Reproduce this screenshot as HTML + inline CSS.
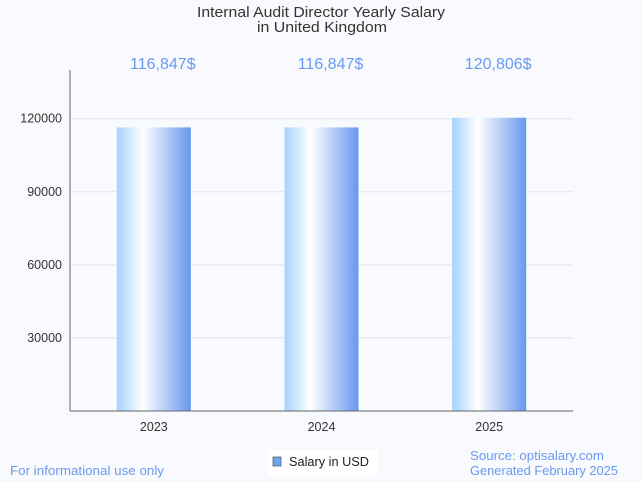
<!DOCTYPE html>
<html><head><meta charset="utf-8"><style>
body{margin:0;width:642px;height:482px;background:#f9fafd;font-family:"Liberation Sans",sans-serif;overflow:hidden}
svg{display:block}
</style></head><body>
<svg id="chart" width="642" height="482">
<defs><linearGradient id="bg" x1="0" x2="1" y1="0" y2="0">
<stop offset="0" stop-color="#a6d2fd"/><stop offset="0.35" stop-color="#ffffff"/><stop offset="1" stop-color="#6797ee"/>
</linearGradient></defs>
<text x="197" y="17" textLength="248" lengthAdjust="spacingAndGlyphs" font-size="14.5" fill="#333">Internal Audit Director Yearly Salary</text>
<text x="257" y="32" textLength="130" lengthAdjust="spacingAndGlyphs" font-size="14.5" fill="#333">in United Kingdom</text>
<g id="grid"></g><g id="bars"></g>
<line x1="70" y1="70" x2="70" y2="411" stroke="#666"/>
<line x1="70" y1="411" x2="573" y2="411" stroke="#666"/>
<text x="10" y="475" textLength="154" lengthAdjust="spacingAndGlyphs" font-size="13" fill="#6a9af0">For informational use only</text>
<rect x="268" y="450" width="110" height="26" fill="#fff"/>
<rect x="273" y="457" width="8" height="9" fill="#6aa5ee" stroke="#555" stroke-width="0.7"/>
<text x="289" y="466" textLength="80" lengthAdjust="spacingAndGlyphs" font-size="12.5" fill="#222">Salary in USD</text>
<text x="470" y="460" textLength="134" lengthAdjust="spacingAndGlyphs" font-size="13" fill="#6a9af0">Source: optisalary.com</text>
<text x="470" y="475" textLength="148" lengthAdjust="spacingAndGlyphs" font-size="13" fill="#6a9af0">Generated February 2025</text>
</svg>
<script>
const categories=["2023","2024","2025"];
const values=[116847,116847,120806];
const valueLabels=["116,847$","116,847$","120,806$"];
const yTicks=[30000,60000,90000,120000];
const NS="http://www.w3.org/2000/svg";
const x0=70,x1=573,yBase=411,yTop=70,yMax=140000;
const y=v=>yBase-(v/yMax)*(yBase-yTop);
const band=(x1-x0)/categories.length;
const xc=i=>x0+band*(i+0.5);
function mk(t,a,p){const e=document.createElementNS(NS,t);for(const k in a)e.setAttribute(k,a[k]);p.appendChild(e);return e;}
const g=document.getElementById("grid"),b=document.getElementById("bars");
yTicks.forEach(v=>{
 const l=mk("line",{x1:x0,x2:x1,y1:y(v),y2:y(v),stroke:"#e2e4e8"},g);
 
 
 const t=mk("text",{x:x0-8,y:y(v)+4,"text-anchor":"end","font-size":12.5,fill:"#333"},g);
 t.textContent=v;
 
 
});
categories.forEach((c,i)=>{
 const r=mk("rect",{x:xc(i)-37,y:y(values[i])+1,width:74,height:yBase-y(values[i])-1,fill:"url(#bg)"},b);
 
 
 const vl=mk("text",{x:xc(i)+9,y:69,"text-anchor":"middle","font-size":16,fill:"#6a9af0"},b);
 vl.textContent=valueLabels[i];
 
 
 const xl=mk("text",{x:xc(i),y:431,"text-anchor":"middle","font-size":12.5,fill:"#333"},b);
 xl.textContent=c;
 
 
});
</script>
</body></html>
